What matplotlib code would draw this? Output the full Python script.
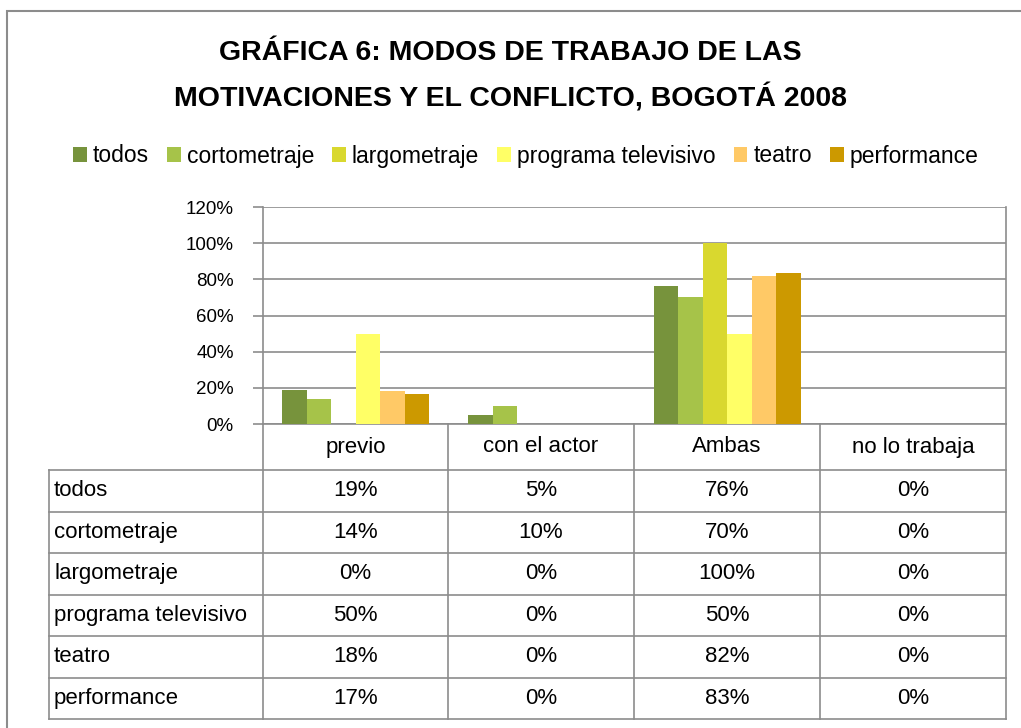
import matplotlib
matplotlib.use("Agg")
import matplotlib.pyplot as plt
from matplotlib.lines import Line2D
from matplotlib.patches import Rectangle
from matplotlib.ticker import FuncFormatter
import numpy as np

plt.rcParams['font.family'] = ['Liberation Sans Narrow', 'Liberation Sans', 'DejaVu Sans']

categories = ['previo', 'con el actor', 'Ambas', 'no lo trabaja']
series = ['todos', 'cortometraje', 'largometraje', 'programa televisivo', 'teatro', 'performance']
todos = [0.186, 0.048, 0.764, 0.0]
cortometraje = [0.136, 0.10, 0.70, 0.0]
largometraje = [0.0, 0.0, 1.0, 0.0]
programa_televisivo = [0.50, 0.0, 0.50, 0.0]
teatro = [0.18, 0.0, 0.82, 0.0]
performance = [0.167, 0.0, 0.833, 0.0]
values = [todos, cortometraje, largometraje, programa_televisivo, teatro, performance]
colors = ['#77933C', '#A6C349', '#D9D82F', '#FFFF66', '#FFC966', '#CC9900']

W, H = 1021, 728
fig = plt.figure(figsize=(W / 100, H / 100), dpi=100)


def fx(px):
    return px / W


def fy(py):
    return 1 - py / H


GRID = '#8C8C8C'

# outer chart frame
fig.add_artist(Rectangle((fx(7), fy(740)), fx(1030) - fx(7), fy(11) - fy(740),
                         transform=fig.transFigure, fill=False, edgecolor='#8C8C8C', lw=1.5))

fig.text(0.5, fy(53), 'GRÁFICA 6: MODOS DE TRABAJO DE LAS', ha='center', va='center',
         fontsize=20.5, fontweight='bold')
fig.text(0.5, fy(98), 'MOTIVACIONES Y EL CONFLICTO, BOGOTÁ 2008', ha='center', va='center',
         fontsize=20.5, fontweight='bold')

x0, x1, y_top, y_zero = 263, 1006, 207, 424
ax = fig.add_axes([fx(x0), fy(y_zero), fx(x1) - fx(x0), fy(y_top) - fy(y_zero)])

n = len(series)
x = np.arange(len(categories))
bw = 0.132
handles = []
for i, (name, vals) in enumerate(zip(series, values)):
    b = ax.bar(x + (i - (n - 1) / 2) * bw, vals, bw, color=colors[i], label=name, zorder=3)
    handles.append(b)

ax.set_xlim(-0.5, len(categories) - 0.5)
ax.set_ylim(0, 1.2)
ax.set_yticks(np.arange(0, 1.21, 0.2))
ax.yaxis.set_major_formatter(FuncFormatter(lambda v, p: f'{v * 100:.0f}%'))
ax.tick_params(axis='y', labelsize=13.5, length=7, color=GRID, width=1.2, pad=14)
ax.tick_params(axis='x', bottom=False, labelbottom=False)
ax.set_xticks(x[:-1] + 0.5, minor=True)
ax.tick_params(axis='x', which='minor', bottom=False)
ax.grid(axis='y', color=GRID, lw=1.2, zorder=0)
ax.grid(axis='x', which='minor', color=GRID, lw=1.2, zorder=0)
for s in ax.spines.values():
    s.set_color(GRID)
    s.set_linewidth(1.2)
ax.spines['top'].set_visible(False)

fig.legend(handles=handles, labels=series, loc='center', bbox_to_anchor=(0.515, fy(156)),
           ncol=6, frameon=False, fontsize=16.5, handlelength=0.6, handleheight=0.6,
           handletextpad=0.25, columnspacing=0.8)

# data table under the chart
col_x = [49, 263, 448, 634, 820, 1006]
row_y = [470, 511.5, 553, 594.5, 636, 677.5, 719]


def line(xa, ya, xb, yb):
    fig.add_artist(Line2D([fx(xa), fx(xb)], [fy(ya), fy(yb)], transform=fig.transFigure,
                          color=GRID, lw=1.2))


for cx in col_x[1:]:
    line(cx, y_zero, cx, row_y[-1])
line(col_x[0], row_y[0], col_x[0], row_y[-1])
for ry in row_y:
    line(col_x[0], ry, col_x[-1], ry)

for j, cat in enumerate(categories):
    fig.text(fx((col_x[j + 1] + col_x[j + 2]) / 2), fy((y_zero + row_y[0]) / 2), cat,
             ha='center', va='center', fontsize=16)

for i, (name, vals) in enumerate(zip(series, values)):
    yc = fy((row_y[i] + row_y[i + 1]) / 2)
    fig.text(fx(col_x[0] + 5), yc, name, ha='left', va='center', fontsize=16)
    for j, v in enumerate(vals):
        fig.text(fx((col_x[j + 1] + col_x[j + 2]) / 2), yc, f'{v * 100:.0f}%',
                 ha='center', va='center', fontsize=16)

fig.savefig('out.png', dpi=100)
